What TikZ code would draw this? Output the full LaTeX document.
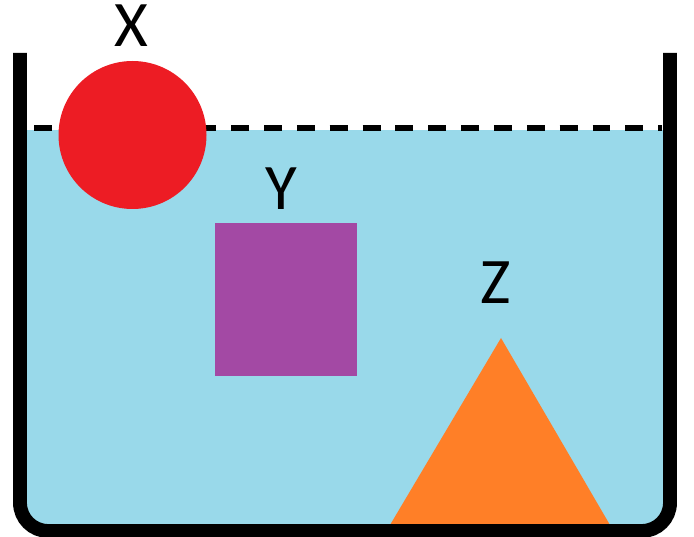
\documentclass[tikz,border=0pt]{standalone}
\usepackage{fontspec}
\setmainfont{Carlito}
\usepackage{tikz}
\usetikzlibrary{positioning}
\definecolor{water}{HTML}{99D9EA}
\definecolor{ballred}{HTML}{ED1C24}
\definecolor{blockpurple}{HTML}{A349A4}
\definecolor{coneorange}{HTML}{FF7F27}

\begin{document}
\begin{tikzpicture}[x=0.02cm, y=-0.02cm, font=\fontsize{37}{40}\selectfont]
        \useasboundingbox (0,0) rectangle (694,537);
        % water and surface
        \fill[water] (26,130) rectangle (664,526);
        \draw[line width=3.4pt, dash pattern=on 10.2pt off 8.5pt, dash phase=14.7pt] (27,128)--(662,128);
        % objects
        \fill[ballred] (132.5,135) circle (74);
        \fill[blockpurple] (215,223) rectangle (357,376);
        \fill[coneorange] (390,525)--(501,338)--(610,525)--cycle;
        \node (labX) at (131,26){X};
        \node (labY) at (281,189){Y};
        \node (labZ) at (496,283){Z};
        % beaker
        \draw[line width=7.9pt, rounded corners=16pt] (20,53)--(20,531)--(670,531)--(670,53);
      \end{tikzpicture}
\end{document}
